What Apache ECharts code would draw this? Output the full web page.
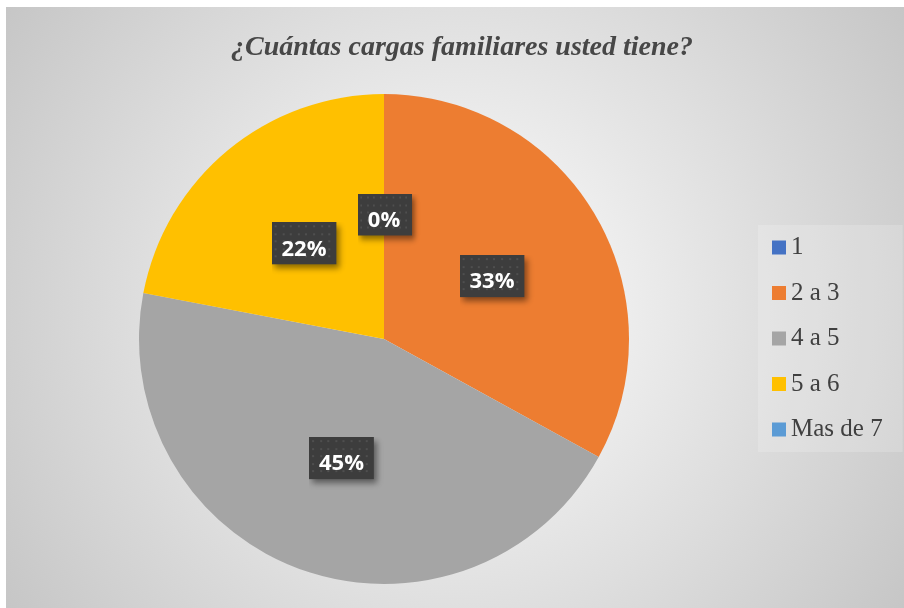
<!DOCTYPE html>
<html>
<head>
<meta charset="utf-8">
<script src="https://cdn.jsdelivr.net/npm/echarts@6/dist/echarts.min.js"></script>
<style>
  html, body { margin: 0; padding: 0; background: #ffffff; }
  #chart { position: absolute; left: 6px; top: 7px; width: 898px; height: 601px; }
</style>
</head>
<body>
<div id="chart"></div>
<script>
// Number of family dependants reported (percent of respondents)
const categories = ['1', '2 a 3', '4 a 5', '5 a 6', 'Mas de 7'];
const shares = [0, 33, 45, 22, 0];
const sliceColors = ['#4472C4', '#ED7D31', '#A5A5A5', '#FFC000', '#5B9BD5'];
const chartTitle = '¿Cuántas cargas familiares usted tiene?';

// Dark dotted label plate with its drop shadow drawn into the same bitmap;
// the extra right/bottom padding of the label leaves room for the shadow.
const PLATE_W = 64, PLATE_H = 42, SHADOW_PAD = 12;
function labelPlate() {
  const c = document.createElement('canvas');
  c.width = PLATE_W + SHADOW_PAD;
  c.height = PLATE_H + SHADOW_PAD;
  const ctx = c.getContext('2d');
  ctx.save();
  ctx.shadowColor = 'rgba(0,0,0,0.45)';
  ctx.shadowBlur = 6;
  ctx.shadowOffsetX = 3;
  ctx.shadowOffsetY = 4;
  ctx.fillStyle = '#3d3d3d';
  ctx.fillRect(0, 0, PLATE_W, PLATE_H);
  ctx.restore();
  ctx.fillStyle = '#4f4f4f';
  for (let y = 3; y < PLATE_H - 1; y += 7.6) {
    for (let x = 3; x < PLATE_W - 1; x += 7.6) {
      ctx.fillRect(Math.round(x), Math.round(y), 2, 2);
    }
  }
  return c;
}
const plate = labelPlate();

const chart = echarts.init(document.getElementById('chart'), null, { renderer: 'canvas' });

chart.setOption({
  backgroundColor: {
    type: 'radial', x: 0.5, y: 0.5, r: 0.9,
    colorStops: [
      { offset: 0, color: '#ffffff' },
      { offset: 1, color: '#c6c6c6' }
    ]
  },
  title: {
    text: chartTitle,
    left: 451, top: 22, textAlign: 'center',
    textStyle: {
      fontFamily: '"Liberation Serif", "DejaVu Serif", serif',
      fontStyle: 'italic', fontWeight: 'bold',
      fontSize: 28, color: '#474747'
    }
  },
  legend: {
    orient: 'vertical',
    left: 752, top: 218,
    itemWidth: 14, itemHeight: 14, itemGap: 20.5,
    icon: 'rect',
    padding: [10, 20, 10, 14],
    backgroundColor: 'rgba(255,255,255,0.18)',
    textStyle: {
      fontFamily: '"Liberation Serif", serif',
      fontSize: 25, lineHeight: 25, color: '#404040'
    },
    data: categories
  },
  series: [{
    type: 'pie',
    center: [378, 332],
    radius: [0, 245],
    startAngle: 90,
    clockwise: true,
    avoidLabelOverlap: false,
    animation: false,
    color: sliceColors,
    labelLayout: { hideOverlap: true },
    label: {
      show: true,
      position: 'inside',
      formatter: '{c}%',
      fontFamily: '"Open Sans", sans-serif',
      fontWeight: 'bold',
      fontSize: 22,
      lineHeight: 22,
      color: '#ffffff',
      backgroundColor: { image: plate },
      padding: [10, 10 + SHADOW_PAD, 10 + SHADOW_PAD, 10],
      offset: [SHADOW_PAD / 2, SHADOW_PAD / 2 + 1]
    },
    labelLine: { show: false },
    itemStyle: { borderWidth: 0 },
    emphasis: { disabled: true },
    data: categories.map((name, i) => ({ name, value: shares[i] }))
  }]
});
</script>
</body>
</html>
